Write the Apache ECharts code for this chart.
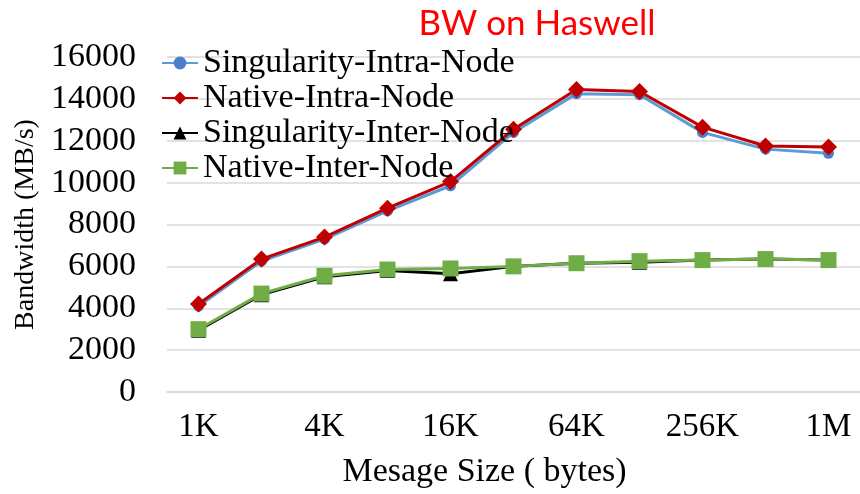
<!DOCTYPE html>
<html>
<head>
<meta charset="utf-8">
<script src="https://cdn.jsdelivr.net/npm/echarts@6/dist/echarts.min.js"></script>
<style>html,body{margin:0;padding:0;background:#fff}#c{width:860px;height:494px}</style>
</head>
<body>
<div id="c"></div>
<script>
const categories = ['1K','2K','4K','8K','16K','32K','64K','128K','256K','512K','1M'];
const singularityIntra = [4100, 6250, 7300, 8650, 9850, 12400, 14250, 14200, 12400, 11600, 11400];
const nativeIntra = [4200, 6350, 7400, 8780, 10050, 12550, 14450, 14350, 12650, 11750, 11700];
const singularityInter = [2950, 4650, 5500, 5800, 5650, 6000, 6150, 6200, 6300, 6350, 6300];
const nativeInter = [3000, 4700, 5550, 5850, 5900, 6000, 6150, 6250, 6300, 6350, 6300];
const seriesNames = ['Singularity-Intra-Node','Native-Intra-Node','Singularity-Inter-Node','Native-Inter-Node'];

const serif = '"Liberation Serif", "Times New Roman", serif';
const chart = echarts.init(document.getElementById('c'));
function mk(name, data, color, symColor, symbol, size) {
  return {
    name, type: 'line', data, symbol, symbolSize: size,
    lineStyle: {color, width: 3},
    itemStyle: {color: symColor, borderWidth: 0},
    emphasis: {disabled: true},
    animation: false
  };
}
chart.setOption({
  animation: false,
  title: {
    text: 'BW on Haswell', left: 532, top: 1, textAlign: 'center',
    textStyle: {color: '#ff0000', fontFamily: 'Lato, "Open Sans", sans-serif', fontWeight: 'normal', fontSize: 35}
  },
  legend: {
    orient: 'vertical', left: 156, top: 41,
    itemWidth: 36, itemHeight: 16, itemGap: 1,
    textStyle: {fontFamily: serif, fontSize: 34, color: '#000'},
    data: seriesNames
  },
  grid: {left: 167, right: -4, top: 57, bottom: 96, containLabel: false},
  xAxis: {
    type: 'category', data: categories, boundaryGap: true,
    axisTick: {show: false},
    axisLine: {lineStyle: {color: '#d9d9d9', width: 1.5}},
    axisLabel: {interval: 1, color: '#000', fontFamily: serif, fontSize: 33, margin: 19},
    name: 'Mesage Size ( bytes)', nameLocation: 'middle', nameGap: 63,
    nameTextStyle: {fontFamily: serif, fontSize: 34, color: '#000', padding: [0, 58, 0, 0]}
  },
  yAxis: {
    type: 'value', min: 0, max: 16000, interval: 2000,
    axisLine: {show: false}, axisTick: {show: false},
    splitLine: {lineStyle: {color: '#d9d9d9', width: 1.5}},
    axisLabel: {color: '#000', fontFamily: serif, fontSize: 34, margin: 31, padding: [0, 0, 6, 0], formatter: v => String(v)},
    name: 'Bandwidth (MB/s)', nameLocation: 'middle', nameGap: 119, nameRotate: 90,
    nameTextStyle: {fontFamily: serif, fontSize: 28, color: '#000'}
  },
  series: [
    mk(seriesNames[0], singularityIntra, '#5b9bd5', '#4a7fd0', 'circle', 11),
    mk(seriesNames[1], nativeIntra, '#c00000', '#c00000', 'diamond', 17),
    mk(seriesNames[2], singularityInter, '#000000', '#000000', 'triangle', 15),
    mk(seriesNames[3], nativeInter, '#70ad47', '#70ad47', 'rect', 16)
  ]
});
</script>
</body>
</html>
